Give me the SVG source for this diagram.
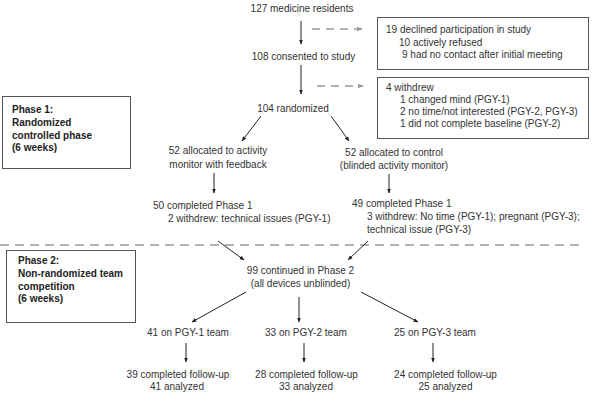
<svg xmlns="http://www.w3.org/2000/svg" width="596" height="411" viewBox="0 0 596 411">
<style>
text{font-family:"Liberation Sans",Arial,sans-serif;font-size:10px;fill:#333}
.b{font-weight:bold;fill:#222}
.m{text-anchor:middle}
.box{fill:#fff;stroke:#555;stroke-width:1}
.ar{stroke:#222;stroke-width:1;fill:none;marker-end:url(#ah)}
.da{stroke:#999;stroke-width:1.5;stroke-dasharray:8,6;fill:none;marker-end:url(#ahg)}
.sep{stroke:#999;stroke-width:1.5;stroke-dasharray:9,6;fill:none}
</style>
<defs>
<marker id="ah" viewBox="0 0 10 10" refX="9" refY="5" markerWidth="5" markerHeight="5" orient="auto" markerUnits="userSpaceOnUse"><path d="M0,1 L10,5 L0,9 z" fill="#222"/></marker>
<marker id="ahg" viewBox="0 0 10 10" refX="9" refY="5" markerWidth="6" markerHeight="6" orient="auto" markerUnits="userSpaceOnUse"><path d="M0,1 L10,5 L0,9 z" fill="#999"/></marker>
</defs>
<rect width="596" height="411" fill="#fff"/>
<g id="connectors">
<line class="sep" x1="0" y1="245" x2="584" y2="245"/>
<line class="ar" x1="301" y1="21" x2="301" y2="44"/>
<line class="da" x1="312" y1="29" x2="362" y2="29"/>
<line class="ar" x1="301" y1="65" x2="301" y2="94"/>
<line class="da" x1="317" y1="86" x2="363" y2="86"/>
<line class="ar" x1="261" y1="116" x2="242" y2="141"/>
<line class="ar" x1="331" y1="116" x2="349" y2="141"/>
<line class="ar" x1="214" y1="173" x2="214" y2="193"/>
<line class="ar" x1="389" y1="174" x2="389" y2="193"/>
<line class="ar" x1="218" y1="241" x2="244" y2="260"/>
<line class="ar" x1="368" y1="241" x2="348" y2="260"/>
<line class="ar" x1="246" y1="292" x2="192" y2="322"/>
<line class="ar" x1="299" y1="297" x2="299" y2="322"/>
<line class="ar" x1="361" y1="292" x2="418" y2="322"/>
<line class="ar" x1="186" y1="343" x2="186" y2="362"/>
<line class="ar" x1="304" y1="343" x2="304" y2="362"/>
<line class="ar" x1="433" y1="343" x2="433" y2="362"/>
</g>
<g id="phase1">
<rect class="box" x="2.5" y="96.5" width="128" height="72"/>
<text class="b" x="12" y="113">Phase 1:</text>
<text class="b" x="12" y="126">Randomized</text>
<text class="b" x="12" y="139">controlled phase</text>
<text class="b" x="12" y="151">(6 weeks)</text>
</g>
<g id="phase2">
<rect class="box" x="6.5" y="250.5" width="129" height="72"/>
<text class="b" x="18" y="264">Phase 2:</text>
<text class="b" x="18" y="276.5">Non-randomized team</text>
<text class="b" x="18" y="289.5">competition</text>
<text class="b" x="18" y="301.5">(6 weeks)</text>
</g>
<g id="n127"><text class="m" x="302" y="12">127 medicine residents</text></g>
<g id="declined">
<rect class="box" x="377.5" y="17.5" width="211" height="52"/>
<text x="386" y="33">19 declined participation in study</text>
<text x="399" y="46">10 actively refused</text>
<text x="402" y="58">9 had no contact after initial meeting</text>
</g>
<g id="n108"><text class="m" x="303.5" y="60">108 consented to study</text></g>
<g id="withdrew">
<rect class="box" x="377.5" y="77.5" width="211" height="61"/>
<text x="386" y="91">4 withdrew</text>
<text x="400" y="103">1 changed mind (PGY-1)</text>
<text x="400" y="115">2 no time/not interested (PGY-2, PGY-3)</text>
<text x="400" y="127">1 did not complete baseline (PGY-2)</text>
</g>
<g id="n104"><text class="m" x="293" y="112">104 randomized</text></g>
<g id="alloc1">
<text class="m" x="218" y="154">52 allocated to activity</text>
<text class="m" x="218" y="168">monitor with feedback</text>
</g>
<g id="alloc2">
<text class="m" x="394" y="156">52 allocated to control</text>
<text class="m" x="394" y="169">(blinded activity monitor)</text>
</g>
<g id="comp1">
<text x="153" y="209">50 completed Phase 1</text>
<text x="168" y="222">2 withdrew: technical issues (PGY-1)</text>
</g>
<g id="comp2">
<text x="352" y="207">49 completed Phase 1</text>
<text x="367" y="220">3 withdrew: No time (PGY-1); pregnant (PGY-3);</text>
<text x="367" y="233">technical issue (PGY-3)</text>
</g>
<g id="n99">
<text class="m" x="300.5" y="274">99 continued in Phase 2</text>
<text class="m" x="300.5" y="287">(all devices unblinded)</text>
</g>
<g id="pgy1"><text class="m" x="188" y="336">41 on PGY-1 team</text></g>
<g id="pgy2"><text class="m" x="306" y="336">33 on PGY-2 team</text></g>
<g id="pgy3"><text class="m" x="435" y="336">25 on PGY-3 team</text></g>
<g id="f1">
<text class="m" x="178" y="378">39 completed follow-up</text>
<text class="m" x="177" y="390">41 analyzed</text>
</g>
<g id="f2">
<text class="m" x="306.5" y="378">28 completed follow-up</text>
<text class="m" x="306" y="390">33 analyzed</text>
</g>
<g id="f3">
<text class="m" x="445.5" y="378">24 completed follow-up</text>
<text class="m" x="445.5" y="390">25 analyzed</text>
</g>
</svg>
